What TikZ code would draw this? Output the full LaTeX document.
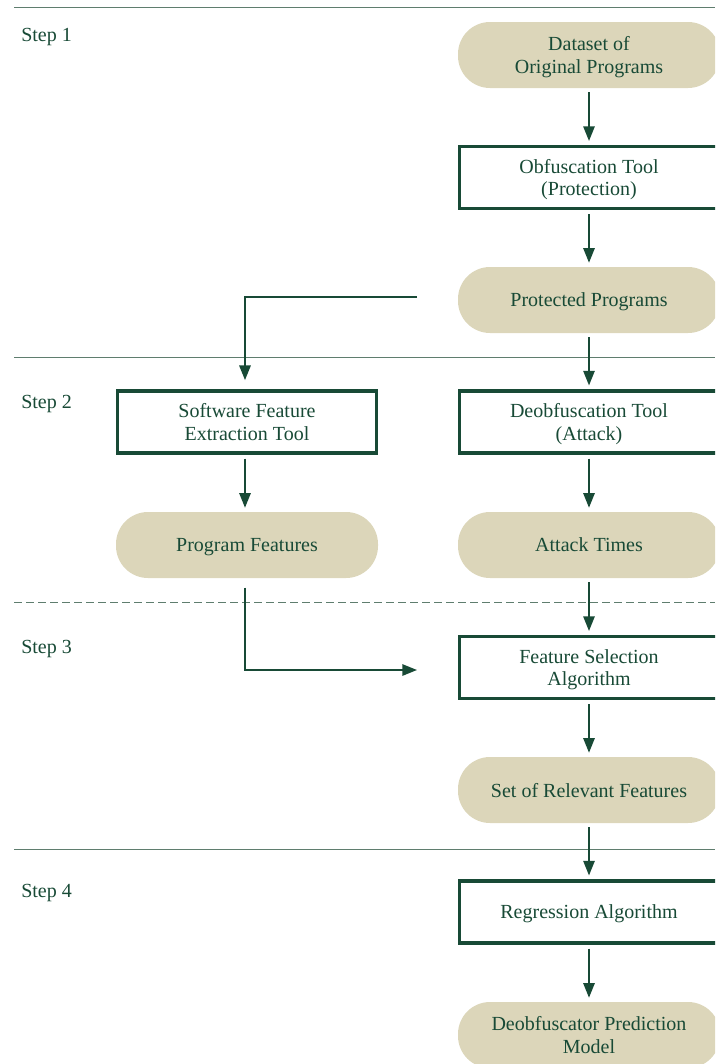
\documentclass[tikz,border=0pt]{standalone}
\usepackage{fontspec}
\setmainfont{Liberation Serif}
\usetikzlibrary{arrows.meta}
\definecolor{deepgreen}{RGB}{24,74,54}
\definecolor{sand}{RGB}{220,214,186}
\definecolor{rule}{RGB}{95,125,110}
\begin{document}
\begin{tikzpicture}[x=0.75pt,y=-0.75pt,
  every node/.style={font=\fontsize{15}{17}\selectfont, text=deepgreen, align=center},
  pill/.style={fill=sand, rounded corners=24pt, minimum width=196.5pt, minimum height=49.5pt, inner sep=0pt, text depth=-0.5pt},
  toolbox/.style={draw=deepgreen, line width=2.3pt, fill=white, minimum width=194pt, minimum height=46.5pt, inner sep=0pt, text depth=-0.5pt},
  steplabel/.style={anchor=west, inner sep=0pt},
  flow/.style={draw=deepgreen, line width=1.4pt, -{Triangle[length=11pt,width=8.5pt]}},
  divider/.style={draw=rule, line width=0.7pt}]
\useasboundingbox (0,0) rectangle (715,1064);
\clip (0,0) rectangle (715,1064);

% section dividers
\draw[divider] (14,7) -- (715,7);
\draw[divider] (14,357) -- (715,357);
\draw[divider, dash pattern=on 6pt off 3pt] (14,602) -- (715,602);
\draw[divider] (14,849) -- (715,849);

% step labels
\node[steplabel] (s1) at (21,37) {Step 1};
\node[steplabel] (s2) at (21,404) {Step 2};
\node[steplabel] (s3) at (21,649) {Step 3};
\node[steplabel] (s4) at (21,893) {Step 4};

% right column
\node[pill] (data) at (589,55) {Dataset of\\Original Programs};
\node[toolbox] (obf) at (589,177.5) {Obfuscation Tool\\(Protection)};
\node[pill] (prot) at (589,300) {Protected Programs};
\node[toolbox] (deobf) at (589,422) {Deobfuscation Tool\\(Attack)};
\node[pill] (times) at (589,545) {Attack Times};
\node[toolbox] (fsel) at (589,667.5) {Feature Selection\\Algorithm};
\node[pill] (rel) at (589,790) {Set of Relevant Features};
\node[toolbox] (reg) at (589,912) {Regression Algorithm};
\node[pill] (model) at (589,1035) {Deobfuscator Prediction\\Model};

% left column
\node[toolbox] (sfx) at (247,422) {Software Feature\\Extraction Tool};
\node[pill] (feat) at (247,545) {Program Features};

% connector end points
\coordinate (branch) at (417,297);
\coordinate (bend1) at (245,297);
\coordinate (merge) at (417,670);
\coordinate (bend2) at (245,670);

% main flow
\draw[flow] ([yshift=-3pt]data.south) -- ([yshift=3pt]obf.north);
\draw[flow] ([yshift=-3pt]obf.south) -- ([yshift=3pt]prot.north);
\draw[flow] ([yshift=-3pt]prot.south) -- ([yshift=3pt]deobf.north);
\draw[flow] ([yshift=-3pt]deobf.south) -- ([yshift=3pt]times.north);
\draw[flow] ([yshift=-3pt]times.south) -- ([yshift=3pt]fsel.north);
\draw[flow] ([yshift=-3pt]fsel.south) -- ([yshift=3pt]rel.north);
\draw[flow] ([yshift=-3pt]rel.south) -- ([yshift=3pt]reg.north);
\draw[flow] ([yshift=-3pt]reg.south) -- ([yshift=3pt]model.north);

% side branch
\draw[flow] (branch) -- (bend1) -- ([xshift=-2*0.75pt,yshift=7pt]sfx.north);
\draw[flow] ([xshift=-2*0.75pt,yshift=-3pt]sfx.south) -- ([xshift=-2*0.75pt,yshift=3pt]feat.north);
\draw[flow] ([xshift=-2*0.75pt,yshift=-7pt]feat.south) -- (bend2) -- (merge);
\end{tikzpicture}
\end{document}
